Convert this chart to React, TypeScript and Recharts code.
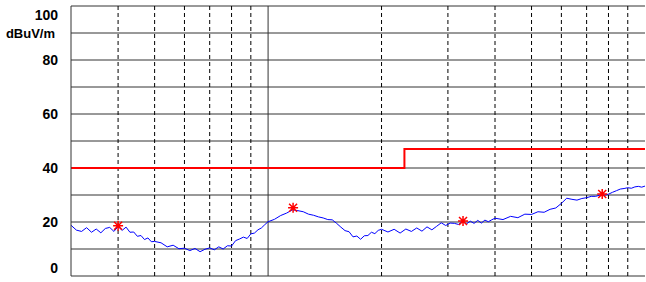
import { ComposedChart, Line, Scatter, XAxis, YAxis, CartesianGrid, ReferenceLine } from 'recharts'

// frequency in MHz, level in dBuV/m
const FREQS = [
  30, 31, 32, 33, 34, 35, 36, 37, 38, 39, 40, 41, 42, 43, 44, 45, 46, 47, 48, 49, 50,
  52, 54, 56, 58, 60, 62, 64, 66, 68, 70, 72, 74, 76, 78, 80, 82, 84, 86, 88, 90, 92, 94, 96, 98, 100,
  104, 108, 112, 116, 120, 124, 128, 132, 136, 140, 144, 148, 152, 156, 160, 164, 168, 172, 176, 180, 184, 188, 192, 196, 200,
  208, 216, 224, 232, 240, 248, 256, 264, 272, 280, 288, 296, 304, 312, 320, 328, 336, 344, 352, 360, 368, 376, 384, 392, 400,
  420, 440, 460, 480, 500, 520, 540, 560, 580, 600, 620, 640, 660, 680, 700, 720, 740, 760, 780, 800, 820, 840, 860, 880, 900, 920, 940, 960, 980, 1000,
]

const LEVELS = [
  18.8, 17.0, 16.5, 17.9, 16.2, 17.4, 16.0, 17.6, 18.0, 16.5, 18.3, 16.9, 18.1, 16.2, 16.3, 14.7, 15.0, 13.5, 14.1, 12.7, 12.8,
  12.3, 10.8, 11.4, 10.1, 10.3, 9.4, 10.2, 9.0, 9.9, 10.4, 9.7, 10.8, 10.0, 11.2, 11.1, 13.1, 13.7, 14.4, 13.9, 15.6, 15.9, 17.1, 17.8, 19.0, 20.1,
  21.0, 22.4, 23.3, 24.5, 24.2, 23.8, 22.9, 22.5, 21.9, 21.5, 20.9, 20.8, 19.5, 18.1, 16.8, 16.4, 14.5, 14.8, 13.6, 14.9, 15.0, 16.2, 15.7, 16.9, 17.3,
  16.3, 17.3, 15.9, 17.4, 16.5, 17.8, 16.6, 18.2, 17.1, 18.4, 19.7, 18.7, 19.6, 19.5, 19.1, 20.2, 19.3, 20.3, 19.5, 20.6, 19.6, 20.7, 20.1, 20.8, 21.4,
  20.9, 22.1, 21.6, 22.9, 22.8, 23.8, 23.6, 24.7, 25.2, 26.9, 28.8, 28.4, 28.1, 28.7, 29.0, 29.5, 29.5, 30.0, 29.9, 30.3, 31.0, 31.6, 32.2, 32.4, 32.7, 32.5, 33.0, 33.2, 32.9, 33.3,
]

const LIMIT_FREQS = [30, 230, 1000]
const LIMIT_LEVELS = [40, 47, 47]

const PEAK_FREQS = [40, 116.5, 329, 770]
const PEAK_LEVELS = [18.6, 25.3, 20.4, 30.4]

const MINOR_FREQS = [40, 50, 60, 70, 80, 90, 200, 300, 400, 500, 600, 700, 800, 900]
const Y_TICKS = [0, 10, 20, 30, 40, 50, 60, 70, 80, 90, 100]

const trace = FREQS.map((f, i) => ({ freq: f, level: LEVELS[i] }))
const limit = LIMIT_FREQS.map((f, i) => ({ freq: f, level: LIMIT_LEVELS[i] }))
const peaks = PEAK_FREQS.map((f, i) => ({ freq: f, level: PEAK_LEVELS[i] }))

const font = '"Liberation Sans", Arial, sans-serif'

function YTick(props: any) {
  const { y, payload } = props
  const v = payload.value
  if (v % 20 !== 0) return null
  let dy = 0
  if (v === 100) dy = 9
  if (v === 0) dy = -8
  return (
    <g>
      <text x={58} y={y + dy} dy="0.36em" textAnchor="end" fontFamily={font} fontWeight="bold" fontSize={14} fill="#000">
        {v}
      </text>
      {v === 100 && (
        <text x={55} y={y + 27} dy="0.36em" textAnchor="end" fontFamily={font} fontWeight="bold" fontSize={13} fill="#000">
          dBuV/m
        </text>
      )}
    </g>
  )
}

function Star(props: any) {
  const { cx, cy } = props
  const d = `M${cx - 5},${cy} L${cx + 5},${cy} M${cx},${cy - 5} L${cx},${cy + 5} M${cx - 4},${cy - 4} L${cx + 4},${cy + 4} M${cx - 4},${cy + 4} L${cx + 4},${cy - 4}`
  return <path d={d} stroke="#ff0000" strokeWidth={1.5} fill="none" />
}

export default function App() {
  return (
    <div style={{ position: 'absolute', left: 0, top: 0, background: '#fff' }}>
      <ComposedChart width={646} height={282} margin={{ top: 6, right: 1, bottom: 6, left: 0 }}>
        <CartesianGrid vertical={false} stroke="#333" strokeWidth={1} />
        <XAxis dataKey="freq" type="number" scale="log" domain={[30, 1000]} allowDataOverflow hide />
        <YAxis
          type="number"
          domain={[0, 100]}
          ticks={Y_TICKS}
          interval={0}
          width={71}
          tickLine={false}
          axisLine={{ stroke: '#333' }}
          tick={<YTick />}
        />
        {MINOR_FREQS.map((f) => (
          <ReferenceLine key={f} x={f} stroke="#000" strokeDasharray="4 3" strokeWidth={1} />
        ))}
        <ReferenceLine x={100} stroke="#333" strokeWidth={1} />
        <Line
          data={limit}
          dataKey="level"
          type="stepAfter"
          stroke="#ff0000"
          strokeWidth={2}
          dot={false}
          isAnimationActive={false}
        />
        <Line
          data={trace}
          dataKey="level"
          type="linear"
          stroke="#0000ff"
          strokeWidth={1}
          dot={false}
          isAnimationActive={false}
        />
        <Scatter data={peaks} dataKey="level" shape={<Star />} isAnimationActive={false} />
      </ComposedChart>
    </div>
  )
}
